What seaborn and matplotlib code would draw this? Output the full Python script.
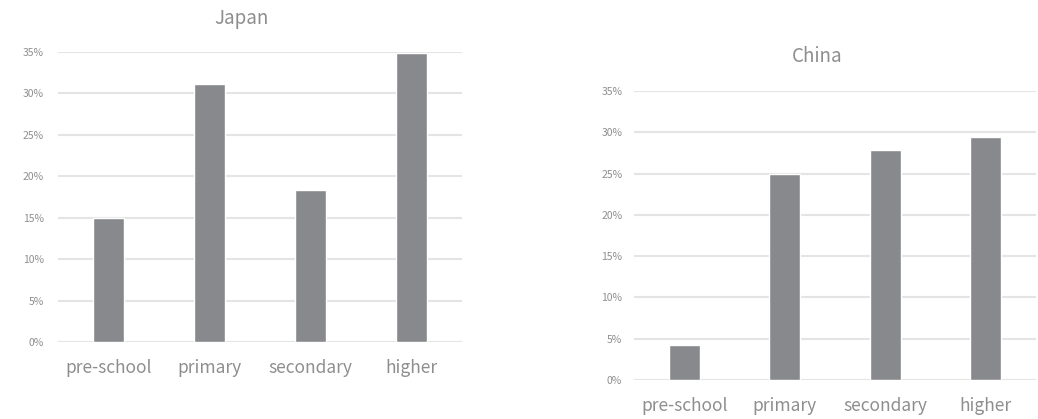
import matplotlib
matplotlib.use('Agg')
import matplotlib.pyplot as plt
import seaborn as sns
from matplotlib.ticker import PercentFormatter

categories = ['pre-school', 'primary', 'secondary', 'higher']
japan_values = [0.150, 0.311, 0.183, 0.349]
china_values = [0.042, 0.249, 0.279, 0.294]
y_ticks = [0, 0.05, 0.10, 0.15, 0.20, 0.25, 0.30, 0.35]

bar_color = '#88898d'
text_color = '#8e8e8e'
grid_color = '#e4e4e4'

sns.set_style("white")
plt.rcParams['font.family'] = ['Noto Sans CJK JP', 'DejaVu Sans']

fig = plt.figure(figsize=(10.38, 4.19), dpi=100)

ax1 = fig.add_axes([0.0559, 0.1838, 0.3892, 0.6921])
ax2 = fig.add_axes([0.6108, 0.0931, 0.3873, 0.6897])

for ax, vals, ypad in [(ax1, japan_values, 10), (ax2, china_values, 8.5)]:
    sns.barplot(x=categories, y=vals, color=bar_color, saturation=1,
                width=0.31, ax=ax, zorder=3)
    ax.set_xlim(-0.5, 3.5)
    ax.set_ylim(0, 0.35)
    ax.set_yticks(y_ticks)
    ax.yaxis.set_major_formatter(PercentFormatter(1.0, decimals=0))
    ax.yaxis.grid(True, color=grid_color, linewidth=1.5, zorder=0)
    ax.xaxis.grid(False)
    for s in ax.spines.values():
        s.set_visible(False)
    ax.tick_params(axis='y', length=0, labelsize=7.5, colors=text_color, pad=ypad)
    ax.tick_params(axis='x', length=0, labelsize=12.5, colors=text_color, pad=12)
    ax.set_xlabel('')
    ax.set_ylabel('')

fig.text(0.233, 0.957, 'Japan', ha='center', va='center', fontsize=13.5, color=text_color)
fig.text(0.787, 0.864, 'China', ha='center', va='center', fontsize=13.5, color=text_color)

fig.savefig('out.png', dpi=100)
plt.close(fig)
